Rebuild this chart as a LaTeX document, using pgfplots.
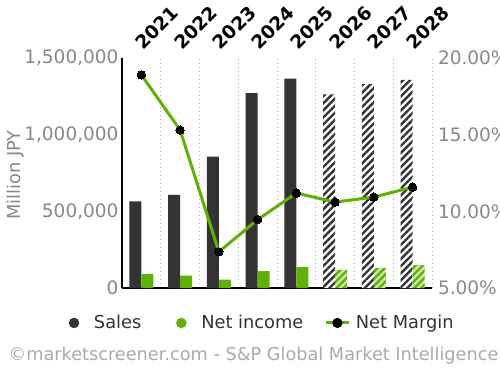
\documentclass[border=0pt]{standalone}
\usepackage{pgfplots}
\pgfplotsset{compat=1.18}
\usetikzlibrary{patterns.meta}
\usepackage{fontspec}
\setmainfont{DejaVu Sans}
\definecolor{barDark}{HTML}{333333}
\definecolor{myGreen}{RGB}{94,178,0}
\definecolor{lightGreen}{RGB}{205,232,170}
\definecolor{tickGray}{HTML}{888888}
\definecolor{footGray}{HTML}{AAAAAA}
\definecolor{legText}{HTML}{333333}
\definecolor{gridGray}{HTML}{AAAAAA}
\newcommand\tickfont{\fontsize{18.5bp}{22bp}\selectfont}
\newcommand\legfont{\fontsize{17.8bp}{21bp}\selectfont}
\newcommand\footfont{\fontsize{17.7bp}{21bp}\selectfont}

\begin{document}
\begin{tikzpicture}
\path[use as bounding box] (-122bp,-82bp) rectangle (378bp,288bp);
\begin{axis}[
 at={(0,0)}, anchor=south west, scale only axis, width=310bp, height=230bp,
 xmin=-0.5, xmax=7.5, ymin=0, ymax=1500000,
 axis x line*=bottom, axis y line*=left,
 axis line style={line width=2bp, black},
 xtick={0,1,2,3,4,5,6,7}, xticklabels=\empty,
 minor xtick={0.5,1.5,2.5,3.5,4.5,5.5,6.5,7.5}, xminorgrids,
 minor grid style={gridGray, line width=0.9bp, dash pattern=on 1bp off 3bp},
 major tick length=0, minor tick length=0,
 ytick={0,500000,1000000,1500000},
 yticklabels={0,{500,000},{1,000,000},{1,500,000}},
 yticklabel style={font=\tickfont, text=tickGray},
 ylabel={Million JPY},
 every axis y label/.style={at={(axis description cs:-0.342,0.491)}, rotate=90, anchor=center, font=\legfont, text=tickGray},
 scaled y ticks=false,
 clip=false,
]
\addplot[ybar, bar width=12bp, bar shift=-6bp, fill=barDark, draw=none] coordinates {(0,565000)(1,608000)(2,857000)(3,1271000)(4,1366000)};
\addplot[ybar, bar width=12bp, bar shift=-6bp, draw=none, fill=white, postaction={pattern={Lines[angle=45,distance=5bp,line width=2.4bp]}, pattern color=barDark}] coordinates {(5,1262000)(6,1329000)(7,1357000)};
\addplot[ybar, bar width=12bp, bar shift=6bp, fill=myGreen, draw=none] coordinates {(0,91000)(1,80000)(2,54000)(3,110000)(4,136000)};
\addplot[ybar, bar width=12bp, bar shift=6bp, draw=none, fill=lightGreen, postaction={pattern={Lines[angle=45,distance=5bp,line width=2.4bp]}, pattern color=myGreen}] coordinates {(5,119000)(6,130000)(7,149000)};
\end{axis}
\begin{axis}[
 at={(0,0)}, anchor=south west, scale only axis, width=310bp, height=230bp,
 xmin=-0.5, xmax=7.5, ymin=5, ymax=20,
 axis x line*=top, axis y line*=right,
 x axis line style={draw=none}, y axis line style={draw=none},
 xtick={0,1,2,3,4,5,6,7}, xticklabels={2021,2022,2023,2024,2025,2026,2027,2028},
 xticklabel style={font=\tickfont\bfseries, rotate=45, anchor=south west, text=black, xshift=3bp},
 ytick={5,10,15,20}, yticklabels={5.00\%,10.00\%,15.00\%,20.00\%},
 yticklabel style={font=\tickfont, text=tickGray, xshift=2.5bp},
 major tick length=0,
 clip=false,
 legend style={at={(0.43,-0.152)}, anchor=center, draw=none, fill=none, legend columns=3, font=\legfont, text=legText, /tikz/every even column/.append style={column sep=19bp}},
]
\addlegendimage{legend image code/.code={\fill[barDark] (0bp,0bp) circle (5bp); \path[draw=none,fill=none] (-19bp,-1bp) rectangle (18bp,1bp);}}
\addlegendentry{Sales}
\addlegendimage{legend image code/.code={\fill[myGreen] (0bp,0bp) circle (5bp); \path[draw=none,fill=none] (-19bp,-1bp) rectangle (18bp,1bp);}}
\addlegendentry{Net income}
\addplot[myGreen, line width=3bp, mark=*, mark size=4.2bp, mark options={black, fill=black, line width=0pt},
 legend image code/.code={\draw[myGreen, line width=3bp] (0bp,0bp) -- (23bp,0bp); \fill[black] (11.5bp,0bp) circle (3.5bp); \path[draw=none,fill=none] (0bp,-1bp) rectangle (28bp,1bp);}]
 coordinates {(0,18.9)(1,15.3)(2,7.36)(3,9.46)(4,11.19)(5,10.6)(6,10.93)(7,11.58)};
\addlegendentry{Net Margin}
\end{axis}
\node[font=\footfont, text=footGray] at (131.5bp,-68bp) {©marketscreener.com - S\&P Global Market Intelligence};
\end{tikzpicture}
\end{document}
